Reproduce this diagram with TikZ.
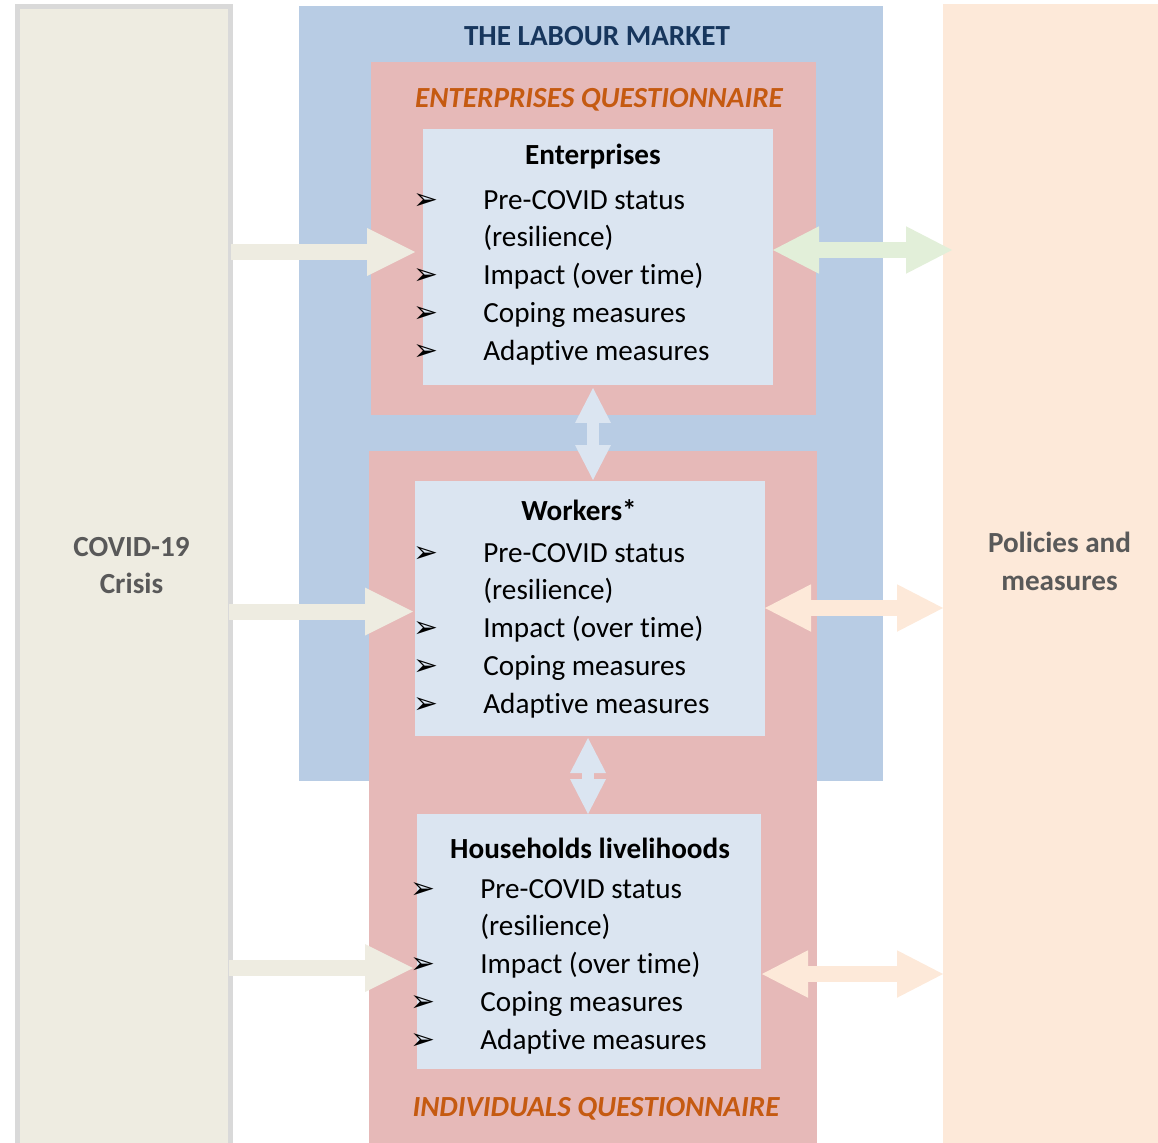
\documentclass[tikz,border=0pt]{standalone}
\usepackage{fontspec}
\setmainfont{Carlito}[Ligatures=CommonOff]
\newfontfamily\dingfont{DejaVu Sans}
\usetikzlibrary{%
	arrows.meta,%
	calc,%
	fit%
}
\definecolor{crisisfill}{HTML}{EEECE1}
\definecolor{crisisline}{HTML}{D9D9D9}
\definecolor{marketblue}{HTML}{B8CCE4}
\definecolor{questpink}{HTML}{E6B9B8}
\definecolor{unitfill}{HTML}{DBE5F1}
\definecolor{policyfill}{HTML}{FDE9D9}
\definecolor{linkgreen}{HTML}{E2EFD9}
\definecolor{titleblue}{HTML}{17365D}
\definecolor{questorange}{HTML}{C55A11}
\definecolor{sidegrey}{HTML}{595959}

\newcommand{\basesize}{\fontsize{16.6}{21.5}\selectfont}
\newcommand{\bul}{{\dingfont\fontsize{17}{17}\selectfont ➢}}
\newcommand{\measures}{%
	\begin{tabular}[t]{@{}p{1.4cm}@{}l@{}}
		\bul & Pre-COVID status\\
		     & (resilience)\\
		\bul & Impact (over time)\\
		\bul & Coping measures\\
		\bul & Adaptive measures
	\end{tabular}}

\tikzset{
	panel/.style={fit={#1}, inner sep=0pt, outer sep=0pt},
	hdr/.style={font=\basesize\bfseries, anchor=base, inner sep=0pt},
	qtitle/.style={font=\basesize\bfseries\itshape, text=questorange, anchor=base, inner sep=0pt},
	lst/.style={font=\basesize, anchor=base west, inner sep=0pt},
	side/.style={font=\basesize\bfseries, text=sidegrey, align=center, inner sep=0pt},
	inarrow/.style={crisisfill, line width=0.32cm, -{Triangle[length=0.96cm,width=0.96cm,line width=0pt]}},
	linkarrow/.style={line width=0.32cm, {Triangle[length=0.92cm,width=0.95cm,line width=0pt]}-{Triangle[length=0.92cm,width=0.95cm,line width=0pt]}},
	tiearrow/.style={unitfill, line width=0.24cm, {Triangle[length=0.7cm,width=0.72cm,line width=0pt]}-{Triangle[length=0.7cm,width=0.72cm,line width=0pt]}}
}

\begin{document}
\begin{tikzpicture}[x=0.02cm, y=-0.02cm]
	\useasboundingbox (0,0) rectangle (1158,1142);

	\node[panel={(17.5,6.5) (230.5,1160)}, fill=crisisfill, draw=crisisline, line width=0.1cm] (crisis) {};
	\node[panel={(943,4) (1158,1160)}, fill=policyfill] (policy) {};
	\node[panel={(299,6) (883,781)}, fill=marketblue] (market) {};
	\node[panel={(371,62) (816,415)}, fill=questpink] (entq) {};
	\node[panel={(369,451) (817,1160)}, fill=questpink] (indq) {};
	\node[panel={(423,129) (773,385)}, fill=unitfill] (ent) {};
	\node[panel={(415,481) (765,736)}, fill=unitfill] (wrk) {};
	\node[panel={(417,814) (761,1069)}, fill=unitfill] (hh) {};

	\node[hdr, text=titleblue] (markettxt) at (597,46) {THE LABOUR MARKET};
	\node[qtitle] (entqtxt) at (599,108) {ENTERPRISES QUESTIONNAIRE};
	\node[qtitle] (indqtxt) at (596,1116) {INDIVIDUALS QUESTIONNAIRE};

	\node[hdr] (enthead) at (593,165) {Enterprises};
	\node[lst] (entlist) at (413,209) {\measures};
	\node[hdr] (wrkhead) at (579,520) {Workers*};
	\node[lst] (wrklist) at (413,562) {\measures};
	\node[hdr] (hhhead) at (590,858) {Households livelihoods};
	\node[lst] (hhlist) at (410,898) {\measures};

	\node[side] (crisistxt) at (131.5,565.5) {COVID-19\\Crisis};
	\node[side] (policytxt) at (1059.5,561) {Policies and\\measures};

	\draw[inarrow] ($(crisis.east |- ent.west)+(0,-5)$) -- ($(ent.west)+(-8,-5)$);
	\draw[inarrow] ($(crisis.east |- wrk.west)+(-2,3)$) -- ($(wrk.west)+(-2,3)$);
	\draw[inarrow] ($(crisis.east |- hh.west)+(-2,26.5)$) -- ($(hh.west)+(-4,26.5)$);

	\draw[linkarrow, linkgreen] ($(ent.east)+(0,-7)$) -- ($(policy.west |- ent.east)+(9,-7)$);
	\draw[linkarrow, policyfill] ($(wrk.east)+(0,-0.5)$) -- ($(policy.west |- wrk.east)+(0,-0.5)$);
	\draw[linkarrow, policyfill] ($(hh.east)+(1,32.5)$) -- ($(policy.west |- hh.east)+(0,32.5)$);

	\draw[tiearrow] ($(ent.south)+(-5,3)$) -- ($(wrk.north)+(3,-1)$);
	\draw[tiearrow] ($(wrk.south)+(-2,2)$) -- ($(hh.north)+(-1,0)$);
\end{tikzpicture}
\end{document}
